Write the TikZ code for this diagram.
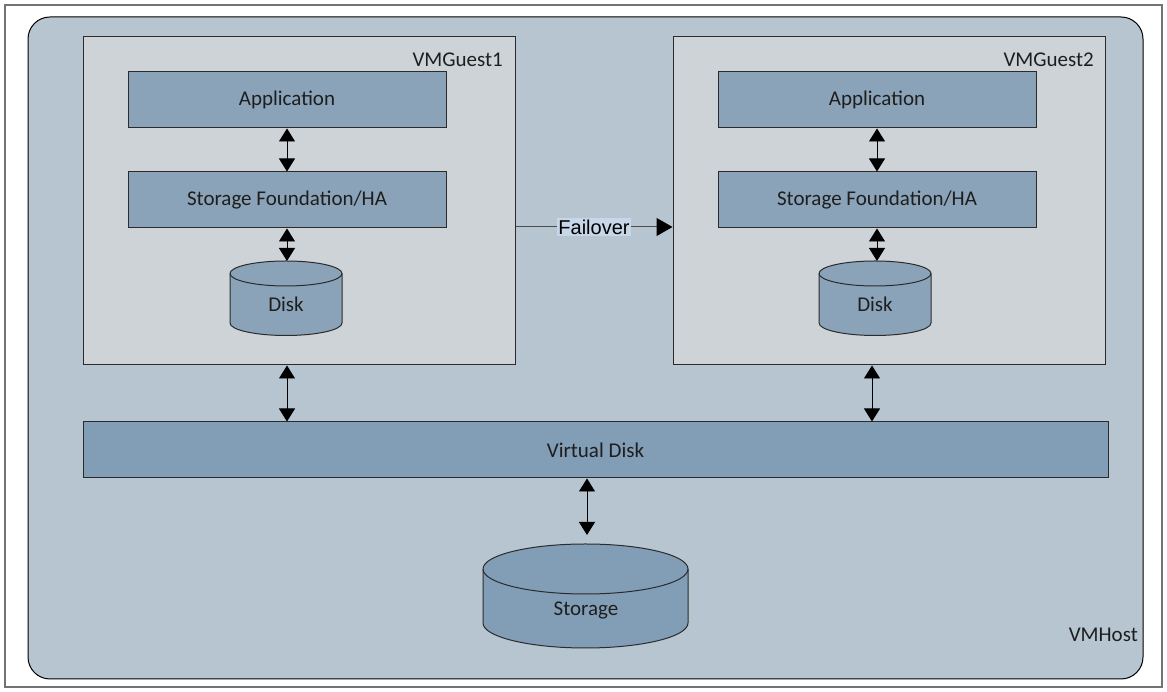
\documentclass[tikz,border=0pt]{standalone}
\usepackage{fontspec}
\setmainfont{Carlito}
\newfontfamily\arialfont{Liberation Sans}
\usetikzlibrary{arrows.meta}
\definecolor{hostfill}{HTML}{B7C5D0}
\definecolor{guestfill}{HTML}{CED3D7}
\definecolor{boxfill}{HTML}{8BA3B8}
\definecolor{vdfill}{HTML}{819EB6}
\definecolor{failbg}{HTML}{C8D6EA}
\definecolor{txt}{HTML}{1E1E1E}
\definecolor{edge}{HTML}{2B2B2B}
\newcommand\lblfont{\fontsize{21}{25}\selectfont}
\newcommand\mycyl[6]{%
  \filldraw[fill=#1, draw=edge, line width=1pt] (#2-#5, #3) -- (#2-#5, #4)
    arc[start angle=180, end angle=360, x radius=#5pt, y radius=#6pt] -- (#2+#5, #3)
    arc[start angle=0, end angle=180, x radius=#5pt, y radius=#6pt] -- cycle;
  \draw[edge, line width=1pt] (#2+#5,#3) arc[start angle=0, end angle=-180, x radius=#5pt, y radius=#6pt];
}
\begin{document}
\begin{tikzpicture}[x=1pt, y=1pt,
  lbl/.style={font=\lblfont, text=txt, inner sep=0pt},
  guestbox/.style={draw=edge, line width=1pt, fill=guestfill, minimum width=432pt, minimum height=328pt, inner sep=0pt},
  layerbox/.style={draw=edge, line width=1pt, fill=boxfill, minimum width=318pt, minimum height=56pt, inner sep=0pt, font=\lblfont, text=txt},
  biarrow/.style={{Triangle[length=13pt,width=16pt]}-{Triangle[length=13pt,width=16pt]}, line width=0.9pt, black},
  failarrow/.style={-{Triangle[length=16pt,width=18pt,fill=black,color=black]}, line width=1pt, draw=black!70}
]
\useasboundingbox (0,0) rectangle (1167,692);
% outer frame
\node[draw=black!55, line width=1.5pt, minimum width=1157pt, minimum height=682pt, inner sep=0pt] (frame) at (583.5,346) {};
% host
\node[draw=black, line width=1pt, fill=hostfill, rounded corners=22pt, minimum width=1115pt, minimum height=662pt, inner sep=0pt] (host) at (585.5,344) {};
\node[lbl, anchor=east] (hostlbl) at (1138,57) {VMHost};
% guests
\node[guestbox] (guest1) at (299,491) {};
\node[guestbox] (guest2) at (889,491) {};
\node[lbl, anchor=east] (g1lbl) at (503,632) {VMGuest1};
\node[lbl, anchor=east] (g2lbl) at (1094,632) {VMGuest2};
% layers
\node[layerbox] (app1) at (287,592) {Application};
\node[layerbox] (sf1) at (287,492) {Storage Foundation/HA};
\node[layerbox] (app2) at (877,592) {Application};
\node[layerbox] (sf2) at (877,492) {Storage Foundation/HA};
% disks
\mycyl{boxfill}{286}{418.5}{369}{56}{12.5}
\node[lbl] (disk1) at (286,388) {Disk};
\coordinate (disk1top) at (286,431);
\mycyl{boxfill}{875}{418.5}{369}{56}{12.5}
\node[lbl] (disk2) at (875,388) {Disk};
\coordinate (disk2top) at (875,431);
% virtual disk
\node[draw=edge, line width=1pt, fill=vdfill, minimum width=1025pt, minimum height=56pt, inner sep=0pt, font=\lblfont, text=txt] (vdisk) at (595.5,242) {Virtual Disk};
% storage
\mycyl{vdfill}{585.5}{123}{69}{102.5}{25}
\node[lbl] (storage) at (586,82) {Storage};
\coordinate (storagetop) at (587,157);
% arrows
\draw[biarrow] (app1.south) -- (sf1.north);
\draw[biarrow] (sf1.south) -- (sf1.south |- disk1top);
\draw[biarrow] (app2.south) -- (sf2.north);
\draw[biarrow] (sf2.south) -- (sf2.south |- disk2top);
\draw[biarrow] (app1.south |- guest1.south) -- (app1.south |- vdisk.north);
\draw[biarrow] ([xshift=-5pt]app2.south |- guest2.south) -- ([xshift=-5pt]app2.south |- vdisk.north);
\draw[biarrow] (storagetop |- vdisk.south) -- (storagetop);
% failover
\draw[failarrow] ([yshift=-26pt]guest1.east) -- node[fill=failbg, font=\arialfont\fontsize{20}{23}\selectfont, text=black, inner sep=1.5pt] (failover) {Failover} ([yshift=-26pt]guest2.west);
\end{tikzpicture}
\end{document}
